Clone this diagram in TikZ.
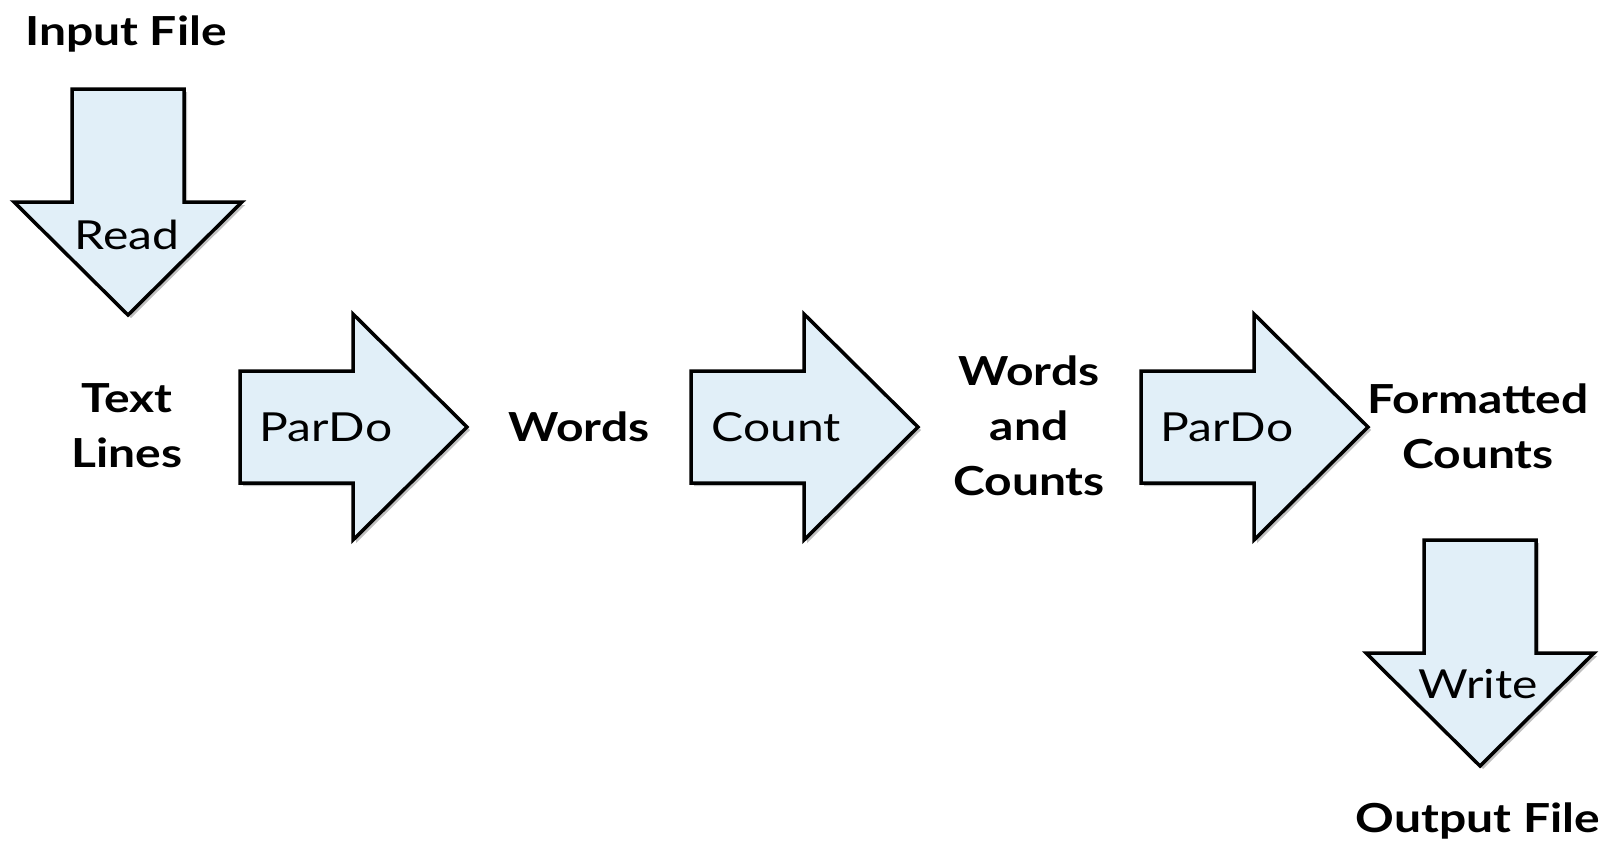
\documentclass[tikz,border=0pt]{standalone}
\usepackage{fontspec}
\setmainfont{Lato}[FakeStretch=1.2]
\begin{document}
\begin{tikzpicture}[x=1pt,y=-1pt,
  arrowfill/.style={fill={rgb,255:red,225;green,239;blue,248}},
  blockarrow/.style={arrowfill, draw=black, line width=3.5pt, line join=miter},
  arrowshadow/.style={fill=black, opacity=0.25},
  stagelabel/.style={font=\fontsize{40}{40}\selectfont, inner sep=0pt},
  datalabel/.style={font=\fontsize{40}{55}\selectfont\bfseries, inner sep=0pt, align=center},
  pics/rightarrow/.style={code={
    \fill[arrowshadow] (3,-53)--(116,-53)--(116,-110)--(230,3)--(116,116)--(116,59)--(3,59)--cycle;
    \draw[blockarrow] (0,-56)--(113,-56)--(113,-113)--(227,0)--(113,113)--(113,56)--(0,56)--cycle;
  }},
  pics/downarrow/.style={code={
    \fill[arrowshadow] (-53,3)--(59,3)--(59,116)--(117,116)--(3,229)--(-111,116)--(-53,116)--cycle;
    \draw[blockarrow] (-56,0)--(56,0)--(56,113)--(114,113)--(0,226)--(-114,113)--(-56,113)--cycle;
  }}]
\useasboundingbox (0,0) rectangle (1606,847);

% transform arrows
\pic at (128,89) {downarrow};
\pic at (240,427) {rightarrow};
\pic at (691,427) {rightarrow};
\pic at (1141,427) {rightarrow};
\pic at (1480,540) {downarrow};

% transform names
\node[stagelabel] (read)   at (127,235) {Read};
\node[stagelabel] (pardo1) at (326,427) {ParDo};
\node[stagelabel] (count)  at (776,427) {Count};
\node[stagelabel] (pardo2) at (1227,427) {ParDo};
\node[stagelabel] (write)  at (1478,684) {Write};

% collections
\node[datalabel] (input)     at (126,34)   {Input File};
\node[datalabel] (lines)     at (127,426)  {Text\\Lines};
\node[datalabel] (words)     at (579,427)  {Words};
\node[datalabel] (wordcount) at (1029,426) {Words\\and\\Counts};
\node[datalabel] (formatted) at (1478,426) {Formatted\\Counts};
\node[datalabel] (output)    at (1478,821) {Output File};
\end{tikzpicture}
\end{document}
